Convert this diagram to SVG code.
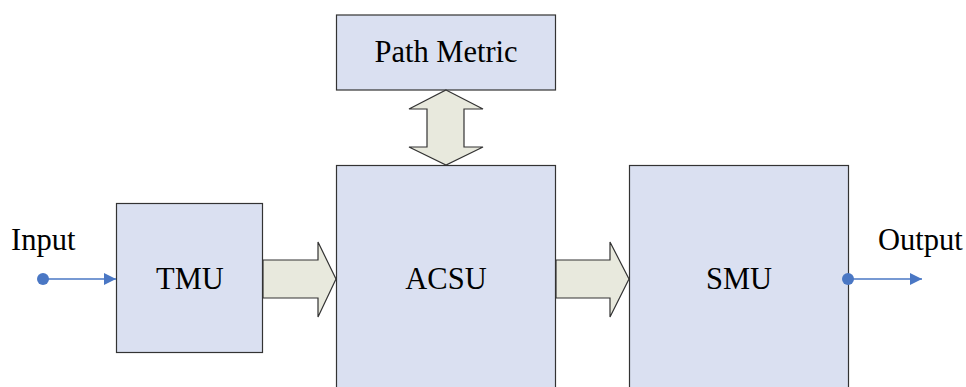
<svg xmlns="http://www.w3.org/2000/svg" width="966" height="387" viewBox="0 0 966 387">
  <defs>
    <style>
      .box { fill: #dae0f1; stroke: #333333; stroke-width: 1.2; }
      .fat { fill: #e8e9dd; stroke: #333333; stroke-width: 1.2; stroke-linejoin: miter; }
      .sig { stroke: #4a77c4; stroke-width: 1.5; fill: none; }
      .dot { fill: #4a77c4; }
      .lbl { font-family: "Liberation Serif", "Times New Roman", serif; font-size: 30.5px; fill: #000000; }
    </style>
    <marker id="tri" viewBox="0 0 10 10" refX="10" refY="5" markerWidth="12" markerHeight="12" markerUnits="userSpaceOnUse" orient="auto">
      <path d="M0,0 L10,5 L0,10 Z" fill="#4a77c4"/>
    </marker>
  </defs>
  <rect width="966" height="387" fill="#ffffff"/>

  <g id="path-metric">
    <rect class="box" x="336.5" y="15" width="219" height="75"/>
    <text class="lbl" x="446" y="62" text-anchor="middle">Path Metric</text>
  </g>
  <g id="tmu">
    <rect class="box" x="116.5" y="203.5" width="146" height="149"/>
    <text class="lbl" x="190" y="289" text-anchor="middle">TMU</text>
  </g>
  <g id="acsu">
    <rect class="box" x="336.5" y="165.5" width="219" height="230"/>
    <text class="lbl" x="446" y="289" text-anchor="middle">ACSU</text>
  </g>
  <g id="smu">
    <rect class="box" x="629.5" y="165.5" width="219" height="230"/>
    <text class="lbl" x="739" y="289" text-anchor="middle">SMU</text>
  </g>
  <g id="input">
    <text class="lbl" x="11" y="250">Input</text>
  </g>
  <g id="output">
    <text class="lbl" x="878" y="250">Output</text>
  </g>

  <g id="connectors">
    <!-- block arrows between units -->
    <path class="fat" d="M263,260 L318,260 L318,242 L336,279 L318,317 L318,298 L263,298 Z"/>
    <path class="fat" d="M556,260 L610,260 L610,242 L629,279 L610,317 L610,298 L556,298 Z"/>
    <!-- two-way link between ACSU and path metric -->
    <path class="fat" d="M446,90 L483,109 L464,109 L464,147 L483,147 L446,165 L409,147 L427,147 L427,109 L409,109 Z"/>
    <!-- signal in / out -->
    <line class="sig" x1="43" y1="279" x2="116" y2="279" marker-end="url(#tri)"/>
    <circle class="dot" cx="43" cy="279" r="6"/>
    <line class="sig" x1="848" y1="279" x2="922" y2="279" marker-end="url(#tri)"/>
    <circle class="dot" cx="848" cy="279" r="6"/>
  </g>
</svg>
